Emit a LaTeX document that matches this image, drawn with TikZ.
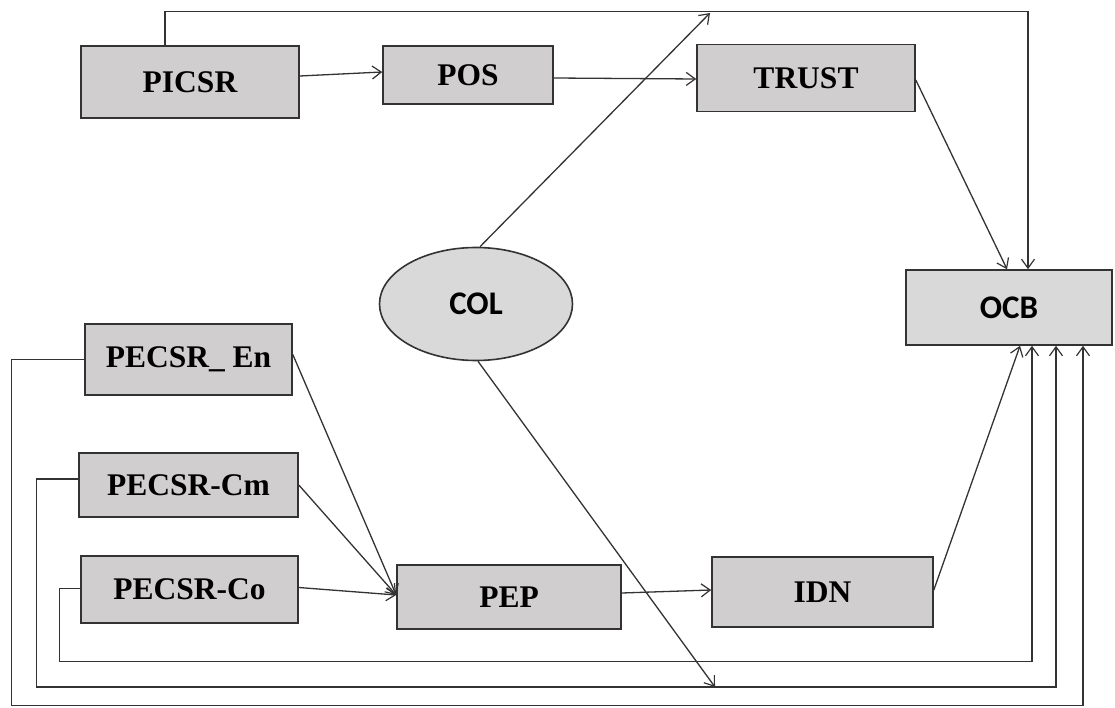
\documentclass[tikz,border=0pt]{standalone}
\usepackage{fontspec}
\setmainfont{Liberation Serif}
\newfontfamily\calfont{Carlito}
\usetikzlibrary{arrows.meta,shapes.geometric}
\definecolor{boxfill}{HTML}{D0CECE}
\definecolor{litefill}{HTML}{D9D9D9}
\definecolor{edge}{HTML}{333333}
\begin{document}
\begin{tikzpicture}[x=1pt,y=-1pt,
  box/.style={draw=edge,line width=1.6pt,fill=boxfill,inner sep=0pt,
    font=\fontsize{31.5}{34}\selectfont\bfseries},
  calbox/.style={draw=edge,line width=1.6pt,fill=litefill,inner sep=0pt,
    font=\calfont\fontsize{33}{36}\selectfont\bfseries},
  link/.style={draw=edge,line width=1.3pt},
  arr/.style={link,-{Straight Barb[length=9pt,width=13pt,line width=1.2pt]}}]
\useasboundingbox (0,0) rectangle (1115,708);
\fill[white] (0,0) rectangle (1115,708);

% top row
\node[box,minimum width=218pt,minimum height=72pt] (picsr) at (190,82) {PICSR};
\node[box,minimum width=170pt,minimum height=58pt] (pos) at (468,75) {POS};
\node[box,minimum width=218pt,minimum height=67pt] (trust) at (806,78) {TRUST};

% outcome and moderator
\node[calbox,minimum width=206pt,minimum height=75pt] (ocb) at (1009,307.5) {OCB};
\node[calbox,ellipse,minimum width=193pt,minimum height=113pt] (col) at (476,304) {COL};

% lower part
\node[box,minimum width=207pt,minimum height=71pt] (en) at (188.5,359.5) {PECSR\_ En};
\node[box,minimum width=219pt,minimum height=64pt] (cm) at (188.5,485) {PECSR-Cm};
\node[box,minimum width=217pt,minimum height=67pt] (co) at (189.5,589.5) {PECSR-Co};
\node[box,minimum width=224pt,minimum height=64pt] (pep) at (509,597) {PEP};
\node[box,minimum width=221pt,minimum height=70pt] (idn) at (822.5,592) {IDN};

% free ends of the moderating arrows
\coordinate (coltop) at (710,13);
\coordinate (colbot) at (715,687);

% upper path
\draw[arr] ([yshift=6pt]picsr.east) -- ([yshift=3pt]pos.west);
\draw[arr] ([yshift=-3pt]pos.east) -- ([yshift=-1pt]trust.west);
\draw[arr] ([yshift=-2pt]trust.east) -- ([xshift=-2pt]ocb.north);
\draw[arr] ([xshift=-25pt]picsr.north) -- ++(0,-34) -| ([xshift=19pt]ocb.north);

% lower path
\draw[arr] ([yshift=5pt]en.east) -- ([yshift=2pt]pep.west);
\draw[arr] ([yshift=0pt]cm.east) -- ([yshift=2pt]pep.west);
\draw[arr] ([yshift=2pt]co.east) -- ([yshift=2pt]pep.west);
\draw[arr] ([yshift=4pt]pep.east) -- ([yshift=2pt]idn.west);
\draw[arr] ([yshift=2pt]idn.east) -- ([xshift=11pt]ocb.south);

% direct links back to OCB
\draw[arr] ([yshift=1pt]co.west) -| ++(-21,73) -| ([xshift=23pt]ocb.south);
\draw[arr] ([yshift=6pt]cm.west) -| ++(-42,208) -| ([xshift=47pt]ocb.south);
\draw[arr] (en.west) -| ++(-73,346) -| ([xshift=74pt]ocb.south);

% moderator
\draw[arr] ([xshift=4pt]col.north) -- (coltop);
\draw[arr] ([xshift=2pt]col.south) -- (colbot);
\end{tikzpicture}
\end{document}
